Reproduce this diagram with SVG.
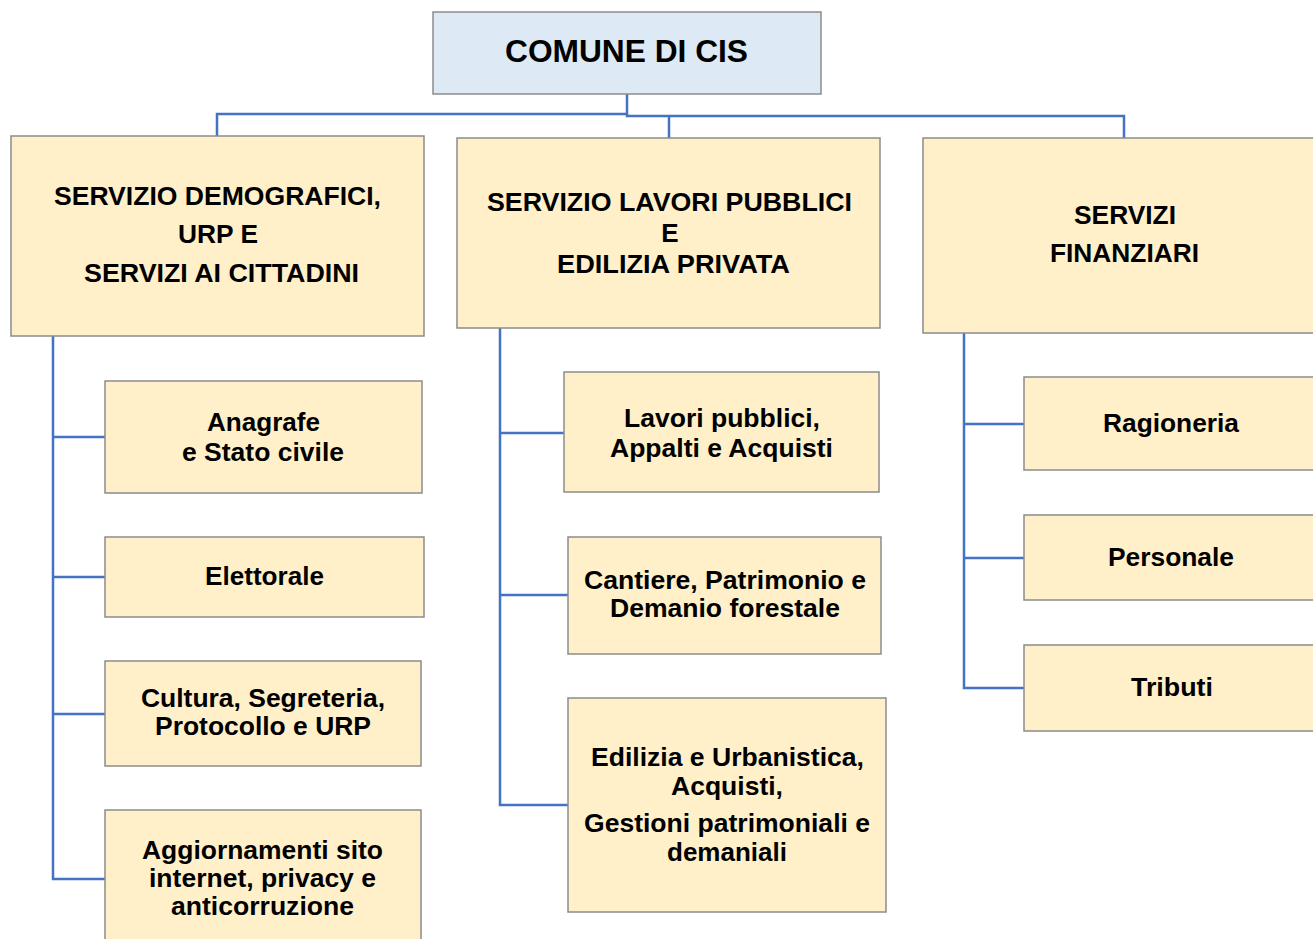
<svg xmlns="http://www.w3.org/2000/svg" width="1313" height="939" viewBox="0 0 1313 939">
<style>
.box{fill:#FFF0C9;stroke:#8C8C8C;stroke-width:1.5}
.top{fill:#DDE9F5;stroke:#8C8C8C;stroke-width:1.5}
.conn{fill:none;stroke:#4472C4;stroke-width:2.5}
.h{font-family:"Liberation Sans",Arial,sans-serif;font-weight:bold;font-size:26px;fill:#000;text-anchor:middle}
.t{font-family:"Liberation Sans",Arial,sans-serif;font-weight:bold;font-size:25px;fill:#000;text-anchor:middle}
</style>
<rect width="1313" height="939" fill="#fff"/>
<g id="connectors">
<path class="conn" d="M627,94 V114 H217 V136"/>
<path class="conn" d="M627,114 V116 H1124 V138"/>
<path class="conn" d="M669,116 V138"/>
<path class="conn" d="M53,336 V879 H105 M53,437 H105 M53,577 H105 M53,714 H105"/>
<path class="conn" d="M500,328 V805 H568 M500,433 H564 M500,595 H568"/>
<path class="conn" d="M964,333 V688 H1024 M964,424 H1024 M964,558 H1024"/>
</g>
<g id="root">
<rect class="top" x="433" y="12" width="388" height="82"/>
<text class="h" x="626.5" y="62" style="font-size:31px" textLength="243" lengthAdjust="spacingAndGlyphs">COMUNE DI CIS</text>
</g>
<g id="svc-demografici">
<rect class="box" x="11" y="136" width="413" height="200"/>
<text class="h" x="217.5" y="205" textLength="327" lengthAdjust="spacingAndGlyphs">SERVIZIO DEMOGRAFICI,</text>
<text class="h" x="218" y="243" textLength="80" lengthAdjust="spacingAndGlyphs">URP E</text>
<text class="h" x="221.5" y="282" textLength="275" lengthAdjust="spacingAndGlyphs">SERVIZI AI CITTADINI</text>
</g>
<g id="svc-lavori">
<rect class="box" x="457" y="138" width="423" height="190"/>
<text class="h" x="669.5" y="211" textLength="365" lengthAdjust="spacingAndGlyphs">SERVIZIO LAVORI PUBBLICI</text>
<text class="h" x="670" y="242">E</text>
<text class="h" x="673.5" y="273" textLength="233" lengthAdjust="spacingAndGlyphs">EDILIZIA PRIVATA</text>
</g>
<g id="svc-finanziari">
<rect class="box" x="923" y="138" width="395" height="195"/>
<text class="h" x="1125" y="224" textLength="102" lengthAdjust="spacingAndGlyphs">SERVIZI</text>
<text class="h" x="1124.5" y="262" textLength="149" lengthAdjust="spacingAndGlyphs">FINANZIARI</text>
</g>
<g id="anagrafe">
<rect class="box" x="105" y="381" width="317" height="112"/>
<text class="t" x="263.5" y="431" textLength="113" lengthAdjust="spacingAndGlyphs">Anagrafe</text>
<text class="t" x="263" y="461" textLength="162" lengthAdjust="spacingAndGlyphs">e Stato civile</text>
</g>
<g id="elettorale">
<rect class="box" x="105" y="537" width="319" height="80"/>
<text class="t" x="264.5" y="585" textLength="119" lengthAdjust="spacingAndGlyphs">Elettorale</text>
</g>
<g id="cultura">
<rect class="box" x="105" y="661" width="316" height="105"/>
<text class="t" x="263" y="707" textLength="244" lengthAdjust="spacingAndGlyphs">Cultura, Segreteria,</text>
<text class="t" x="263" y="735" textLength="216" lengthAdjust="spacingAndGlyphs">Protocollo e URP</text>
</g>
<g id="aggiornamenti">
<rect class="box" x="105" y="810" width="316" height="135"/>
<text class="t" x="262.5" y="859" textLength="241" lengthAdjust="spacingAndGlyphs">Aggiornamenti sito</text>
<text class="t" x="262.5" y="887" textLength="227" lengthAdjust="spacingAndGlyphs">internet, privacy e</text>
<text class="t" x="262.5" y="915" textLength="183" lengthAdjust="spacingAndGlyphs">anticorruzione</text>
</g>
<g id="lavori-pubblici">
<rect class="box" x="564" y="372" width="315" height="120"/>
<text class="t" x="722" y="427" textLength="196" lengthAdjust="spacingAndGlyphs">Lavori pubblici,</text>
<text class="t" x="721.5" y="457" textLength="223" lengthAdjust="spacingAndGlyphs">Appalti e Acquisti</text>
</g>
<g id="cantiere">
<rect class="box" x="568" y="537" width="313" height="117"/>
<text class="t" x="725" y="589" textLength="282" lengthAdjust="spacingAndGlyphs">Cantiere, Patrimonio e</text>
<text class="t" x="725" y="617" textLength="230" lengthAdjust="spacingAndGlyphs">Demanio forestale</text>
</g>
<g id="edilizia">
<rect class="box" x="568" y="698" width="318" height="214"/>
<text class="t" x="727.5" y="766" textLength="273" lengthAdjust="spacingAndGlyphs">Edilizia e Urbanistica,</text>
<text class="t" x="727" y="795" textLength="112" lengthAdjust="spacingAndGlyphs">Acquisti,</text>
<text class="t" x="727" y="832" textLength="286" lengthAdjust="spacingAndGlyphs">Gestioni patrimoniali e</text>
<text class="t" x="727" y="861" textLength="120" lengthAdjust="spacingAndGlyphs">demaniali</text>
</g>
<g id="ragioneria">
<rect class="box" x="1024" y="377" width="295" height="93"/>
<text class="t" x="1171" y="432" textLength="136" lengthAdjust="spacingAndGlyphs">Ragioneria</text>
</g>
<g id="personale">
<rect class="box" x="1024" y="515" width="295" height="85"/>
<text class="t" x="1171" y="566" textLength="126" lengthAdjust="spacingAndGlyphs">Personale</text>
</g>
<g id="tributi">
<rect class="box" x="1024" y="645" width="295" height="86"/>
<text class="t" x="1172" y="696" textLength="82" lengthAdjust="spacingAndGlyphs">Tributi</text>
</g>
</svg>
